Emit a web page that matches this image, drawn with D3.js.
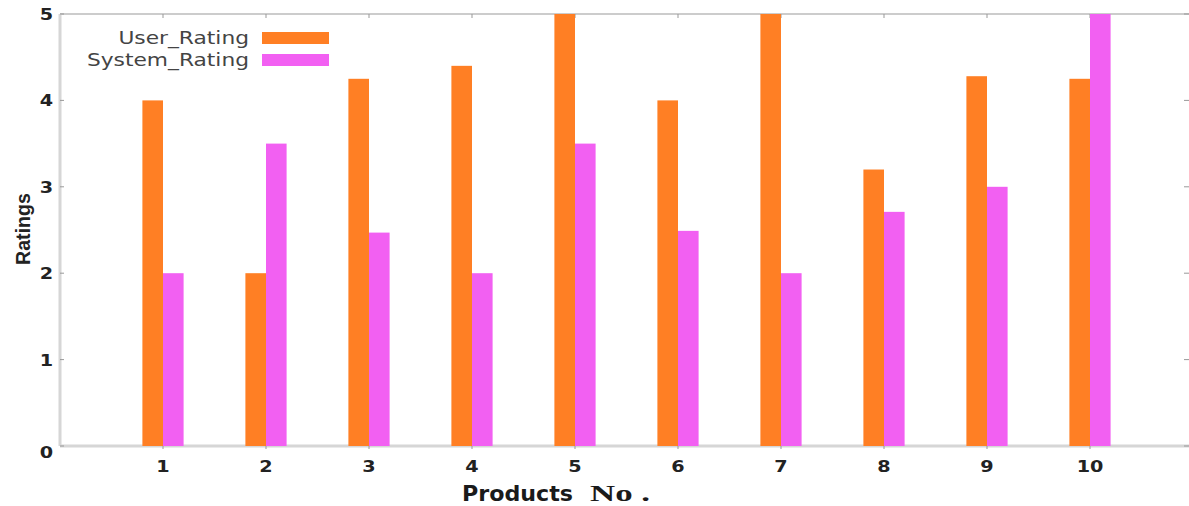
<!DOCTYPE html>
<html><head><meta charset="utf-8">
<script src="https://cdn.jsdelivr.net/npm/d3@7"></script>
<style>body{margin:0;background:#fff}svg{display:block}</style>
</head><body><svg id="c" width="1189" height="506"></svg>
<script>
const products = [1,2,3,4,5,6,7,8,9,10];
const userRating = [4, 2, 4.25, 4.4, 5, 4, 5, 3.2, 4.28, 4.25];
const systemRating = [2, 3.5, 2.47, 2, 3.5, 2.49, 2, 2.71, 3.0, 5];
const yTicks = [0,1,2,3,4,5];
const seriesNames = ["User_Rating","System_Rating"];
const colors = ["#ff7f24","#f260f2"];

(function(){
const svg = d3.select("#c");
const mL = 60, mT = 14, mB = 446, mR = 1193;
const SX = 1.28;
const x = d3.scaleLinear().domain([0, 11]).range([mL, mR]);
const y = d3.scaleLinear().domain([0, 5]).range([mB, mT]);
const bw = x(0.2) - x(0);

// frame
svg.append("line").attr("x1",mL).attr("x2",mR).attr("y1",mT).attr("y2",mT).attr("stroke","#bbb").attr("stroke-width",1.5);
svg.append("line").attr("x1",mL).attr("x2",mL).attr("y1",mT).attr("y2",mB).attr("stroke","#d6d6d6").attr("stroke-width",3);
svg.append("line").attr("x1",mL).attr("x2",mR).attr("y1",mB).attr("y2",mB).attr("stroke","#d6d6d6").attr("stroke-width",3);

// ticks
const g = svg.append("g");
products.forEach(p=>{
  g.append("line").attr("x1",x(p)).attr("x2",x(p)).attr("y1",mT).attr("y2",mT+4).attr("stroke","#999");
  g.append("line").attr("x1",x(p)).attr("x2",x(p)).attr("y1",mB).attr("y2",mB+3).attr("stroke","#999");
});
yTicks.forEach(t=>{
  g.append("line").attr("x1",mL).attr("x2",mL+4).attr("y1",y(t)).attr("y2",y(t)).attr("stroke","#999");
  g.append("line").attr("x1",1184).attr("x2",1189).attr("y1",y(t)).attr("y2",y(t)).attr("stroke","#999");
});

// bars
const series = [userRating, systemRating];
series.forEach((vals, si)=>{
  svg.append("g").selectAll("rect").data(vals).join("rect")
    .attr("x",(d,i)=> si===0 ? x(products[i]) - bw : x(products[i]))
    .attr("y",d=>y(d))
    .attr("width",bw)
    .attr("height",d=>y(0)-y(d))
    .attr("fill",colors[si]);
});

// y tick labels
svg.append("g").selectAll("text").data(yTicks).join("text")
  .attr("transform",d=>`translate(53,${d===0 ? y(d)+12 : y(d)+6}) scale(${SX},1)`)
  .attr("text-anchor","end")
  .attr("font-family","DejaVu Sans").attr("font-weight","bold").attr("font-size",15)
  .attr("fill","#222").text(d=>d);

// x tick labels
svg.append("g").selectAll("text").data(products).join("text")
  .attr("transform",d=>`translate(${x(d)},472) scale(${SX},1)`)
  .attr("text-anchor","middle")
  .attr("font-family","DejaVu Sans").attr("font-weight","bold").attr("font-size",15)
  .attr("fill","#222").text(d=>d);

// axis titles
svg.append("text").attr("transform","translate(30,229) rotate(-90)")
  .attr("text-anchor","middle").attr("font-family","Liberation Sans Narrow, Liberation Sans")
  .attr("font-weight","bold").attr("font-size",21).attr("textLength",72).attr("lengthAdjust","spacingAndGlyphs")
  .attr("fill","#222").text("Ratings");

svg.append("text").attr("x",462).attr("y",501)
  .attr("font-family","DejaVu Sans").attr("font-weight","bold").attr("font-size",21)
  .attr("textLength",111).attr("lengthAdjust","spacingAndGlyphs")
  .attr("fill","#1a1a1a").text("Products");
svg.append("text").attr("x",590).attr("y",501)
  .attr("font-family","Liberation Serif").attr("font-weight","bold").attr("font-size",24)
  .attr("textLength",60).attr("lengthAdjust","spacingAndGlyphs")
  .attr("fill","#1a1a1a").text("No .");

// legend
seriesNames.forEach((n,i)=>{
  const ly = 38 + i*22;
  svg.append("text").attr("transform",`translate(249,${ly+6}) scale(${SX},1)`).attr("text-anchor","end")
    .attr("font-family","DejaVu Sans").attr("font-size",17).attr("fill","#444").text(n);
  svg.append("rect").attr("x",262).attr("y",ly-6).attr("width",67).attr("height",12).attr("fill",colors[i]);
});
})();
</script></body></html>
